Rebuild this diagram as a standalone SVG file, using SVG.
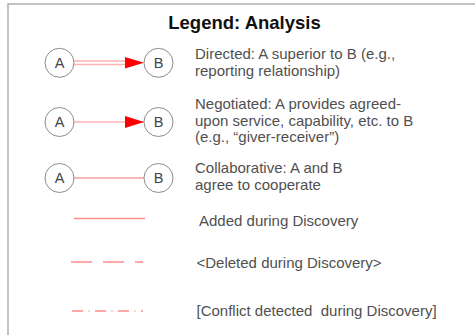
<svg xmlns="http://www.w3.org/2000/svg" width="475" height="335" viewBox="0 0 475 335">
<style>
.node circle{fill:#fff;stroke:#8c8c8c;stroke-width:1}
.node text{font-family:"Liberation Sans",Arial,sans-serif;font-size:14.5px;fill:#444;text-anchor:middle}
.lbl{font-family:"Liberation Sans",Arial,sans-serif;font-size:15px;fill:#505050}
.title{font-family:"Liberation Sans",Arial,sans-serif;font-size:18.5px;font-weight:bold;fill:#111;text-anchor:middle}
.pink{stroke:#ffb3b3;stroke-width:1.5;fill:none}
.red{stroke:#f07070;stroke-width:1.2;fill:none}
.leg{stroke:#ff8a8a;stroke-width:1.5;fill:none}
</style>
<defs>
<marker id="arr" markerWidth="19" markerHeight="12" refX="19" refY="6" orient="auto" markerUnits="userSpaceOnUse">
<path d="M0,0 L19,6 L0,12 Z" fill="#ff0000"/>
</marker>
</defs>
<rect x="8" y="4" width="480" height="340" fill="#fff" stroke="#b0b0b0" stroke-width="1.5"/>
<text class="title" x="244.5" y="29">Legend: Analysis</text>

<g id="connectors">
<line class="pink" x1="74" y1="61" x2="126" y2="61"/>
<line class="pink" x1="74" y1="64.5" x2="126" y2="64.5"/>
<path d="M125,57 L144,62.8 L125,68.5 Z" fill="#ff0000"/>
<line class="pink" x1="74" y1="122" x2="144" y2="122" marker-end="url(#arr)"/>
<line class="red" x1="74" y1="178" x2="144" y2="178"/>
<line class="leg" x1="74" y1="218.5" x2="145" y2="218.5"/>
<line class="leg" x1="71" y1="262" x2="143" y2="262" stroke-dasharray="21 11"/>
<line class="leg" x1="72" y1="311" x2="143" y2="311" stroke-dasharray="11 5.5 1 5.5"/>
</g>

<g id="directedA" class="node"><circle cx="59.5" cy="62.8" r="14.5"/><text x="59.5" y="68">A</text></g>
<g id="directedB" class="node"><circle cx="158.5" cy="62.8" r="14.5"/><text x="158.5" y="68">B</text></g>
<g id="negotiatedA" class="node"><circle cx="59.5" cy="122" r="14.5"/><text x="59.5" y="127.2">A</text></g>
<g id="negotiatedB" class="node"><circle cx="158.5" cy="122" r="14.5"/><text x="158.5" y="127.2">B</text></g>
<g id="collabA" class="node"><circle cx="59.5" cy="178" r="14.5"/><text x="59.5" y="183.2">A</text></g>
<g id="collabB" class="node"><circle cx="158.5" cy="178" r="14.5"/><text x="158.5" y="183.2">B</text></g>

<g id="labels">
<text class="lbl" x="195" y="59">Directed: A superior to B (e.g.,</text>
<text class="lbl" x="195" y="76">reporting relationship)</text>
<text class="lbl" x="195" y="109">Negotiated: A provides agreed-</text>
<text class="lbl" x="195" y="125.5">upon service, capability, etc. to B</text>
<text class="lbl" x="195" y="142">(e.g., “giver-receiver”)</text>
<text class="lbl" x="195" y="173">Collaborative: A and B</text>
<text class="lbl" x="195" y="190">agree to cooperate</text>
<text class="lbl" x="199" y="226">Added during Discovery</text>
<text class="lbl" x="196.5" y="268">&lt;Deleted during Discovery&gt;</text>
<text class="lbl" x="196.5" y="316" xml:space="preserve">[Conflict detected  during Discovery]</text>
</g>
</svg>
